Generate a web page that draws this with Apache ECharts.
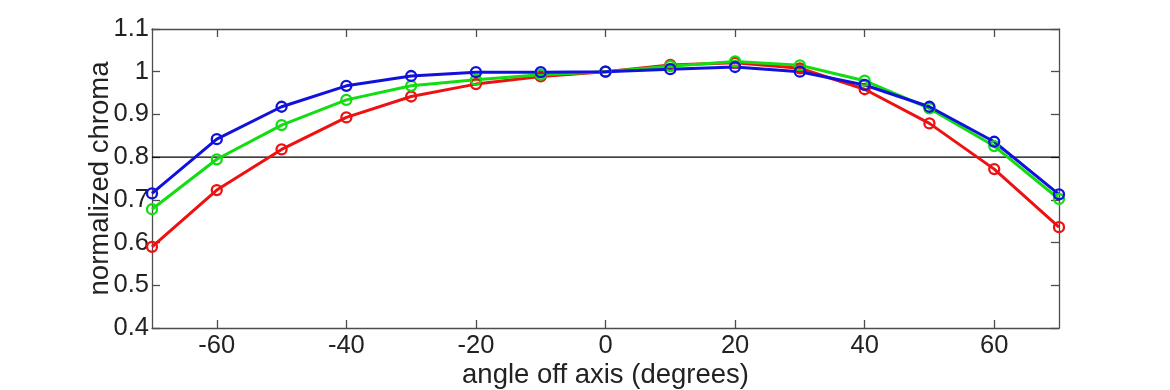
<!DOCTYPE html>
<html>
<head>
<meta charset="utf-8">
<script src="https://cdn.jsdelivr.net/npm/echarts@6/dist/echarts.min.js"></script>
<style>html,body{margin:0;padding:0;background:#fff}#c{width:1170px;height:390px}</style>
</head>
<body>
<div id="c"></div>
<script>
const angles = [-70,-60,-50,-40,-30,-20,-10,0,10,20,30,40,50,60,70];
const redValues   = [0.590,0.723,0.818,0.893,0.942,0.971,0.989,1.000,1.016,1.021,1.008,0.959,0.879,0.772,0.636];
const greenValues = [0.678,0.795,0.875,0.934,0.967,0.981,0.993,1.000,1.013,1.024,1.015,0.979,0.914,0.826,0.702];
const blueValues  = [0.715,0.842,0.918,0.967,0.990,0.999,0.999,1.000,1.006,1.011,1.000,0.969,0.918,0.836,0.713];
const xTicks = [-60,-40,-20,0,20,40,60];
const yTicks = [0.4,0.5,0.6,0.7,0.8,0.9,1,1.1];
const thresholdValue = 0.8;

const FONT = 'Liberation Sans, Arial, Helvetica, sans-serif';
const frame = '#4d4d4d';
function pts(v){ return angles.map((a,i)=>[a,v[i]]); }
function mk(name,color,vals){
  return {
    name, type:'line', data: pts(vals), clip:false,
    symbol:'circle', symbolSize:10,
    lineStyle:{color, width:3},
    itemStyle:{color:'rgba(255,255,255,0)', borderColor:color, borderWidth:2.3},
    emphasis:{disabled:true}, animation:false, z:3
  };
}
const axLine = {show:true, onZero:false, lineStyle:{color:frame, width:1.3}};
const chart = echarts.init(document.getElementById('c'));
chart.setOption({
  backgroundColor:'#fff',
  animation:false,
  grid:{left:152, right:111, top:29, bottom:62, containLabel:false, outerBoundsMode:'none'},
  xAxis:[{
    type:'value', min:-70, max:70, position:'bottom',
    name:'angle off axis (degrees)', nameLocation:'middle', nameGap:33, nameMoveOverlap:false,
    nameTextStyle:{fontFamily:FONT, fontSize:27.5, color:'#222'},
    axisLine:axLine,
    axisTick:{show:true, inside:true, length:8, customValues:xTicks, lineStyle:{color:frame, width:1.3}},
    axisLabel:{show:true, customValues:xTicks, fontFamily:FONT, fontSize:25.5, color:'#222', margin:5},
    splitLine:{show:false}
  },{
    type:'value', min:-70, max:70, position:'top',
    axisLine:axLine,
    axisTick:{show:true, inside:true, length:8, customValues:xTicks, lineStyle:{color:frame, width:1.3}},
    axisLabel:{show:false}, splitLine:{show:false}
  }],
  yAxis:[{
    type:'value', min:0.4, max:1.1, position:'left',
    name:'normalized chroma', nameLocation:'middle', nameGap:38, nameMoveOverlap:false,
    nameTextStyle:{fontFamily:FONT, fontSize:27.5, color:'#222'},
    axisLine:axLine,
    axisTick:{show:true, inside:true, length:8, customValues:yTicks, lineStyle:{color:frame, width:1.3}},
    axisLabel:{show:true, customValues:yTicks, fontFamily:FONT, fontSize:25.5, color:'#222', margin:3,
      formatter:v=>String(Math.round(v*10)/10)},
    splitLine:{show:false}
  },{
    type:'value', min:0.4, max:1.1, position:'right',
    axisLine:axLine,
    axisTick:{show:true, inside:true, length:8, customValues:yTicks, lineStyle:{color:frame, width:1.3}},
    axisLabel:{show:false}, splitLine:{show:false}
  }],
  series:[
    {type:'line', data:[[-70,thresholdValue],[70,thresholdValue]], symbol:'none',
     lineStyle:{color:'#000', width:1.3}, z:2, silent:true},
    mk('red','#ee1111',redValues),
    mk('green','#11dd11',greenValues),
    mk('blue','#1111dd',blueValues)
  ]
});
</script>
</body>
</html>
